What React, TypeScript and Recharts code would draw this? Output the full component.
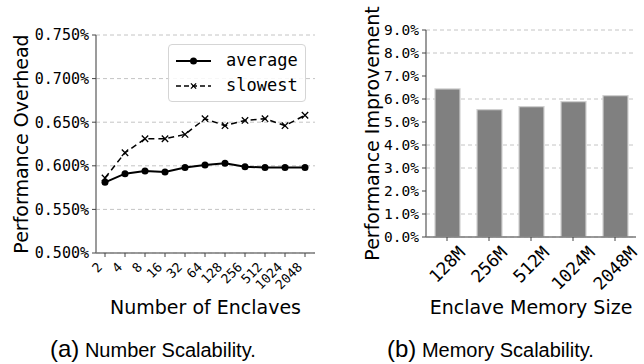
import React from "react";
import {
  LineChart,
  Line,
  BarChart,
  Bar,
  XAxis,
  YAxis,
  CartesianGrid,
} from "recharts";

const enclaves = ["2", "4", "8", "16", "32", "64", "128", "256", "512", "1024", "2048"];
const averageOverhead = [0.581, 0.591, 0.594, 0.593, 0.598, 0.601, 0.603, 0.599, 0.598, 0.598, 0.598];
const slowestOverhead = [0.586, 0.615, 0.631, 0.631, 0.636, 0.654, 0.646, 0.652, 0.654, 0.646, 0.658];
const overheadTicks = [0.5, 0.55, 0.6, 0.65, 0.7, 0.75];

const memorySizes = ["128M", "256M", "512M", "1024M", "2048M"];
const improvement = [6.44, 5.54, 5.67, 5.89, 6.15];
const improvementTicks = [0, 1, 2, 3, 4, 5, 6, 7, 8, 9];

const lineData = enclaves.map((n, i) => ({
  n,
  average: averageOverhead[i],
  slowest: slowestOverhead[i],
}));
const barData = memorySizes.map((m, i) => ({ m, value: improvement[i] }));

const MONO = "'DejaVu Sans Mono', monospace";
const SANS = "'DejaVu Sans', sans-serif";
const FRAME = "#7a7a7a";
const TICKLINE = "#444";

const LeftTick = (props: any) => {
  const { x, payload } = props;
  const ax = x - 2;
  const ay = 253 + 15;
  return (
    <text
      x={ax}
      y={ay}
      textAnchor="end"
      transform={`rotate(-45, ${ax}, ${ay})`}
      fontSize={13}
      fontFamily={MONO}
      fill="#000"
    >
      {payload.value}
    </text>
  );
};

const RightTick = (props: any) => {
  const { x, payload } = props;
  const fs = 17.5;
  const len = String(payload.value).length * 0.602 * fs;
  const h = 0.707 * (len + 0.73 * fs);
  const cy = 237 + 8 + h / 2;
  return (
    <text
      x={x}
      y={cy}
      dy="0.35em"
      textAnchor="middle"
      transform={`rotate(-45, ${x}, ${cy})`}
      fontSize={fs}
      fontFamily={MONO}
      fill="#000"
    >
      {payload.value}
    </text>
  );
};

const Cross = ({ cx, cy, s = 3.2 }: { cx: number; cy: number; s?: number }) => (
  <path
    d={`M${cx - s},${cy - s}L${cx + s},${cy + s}M${cx - s},${cy + s}L${cx + s},${cy - s}`}
    stroke="#000"
    strokeWidth={1.3}
    fill="none"
  />
);

function OverheadLegend() {
  return (
    <div
      style={{
        position: "absolute",
        left: 168,
        top: 44,
        width: 136,
        height: 56,
        border: "1px solid #d5d5d5",
        borderRadius: 4,
        background: "rgba(255,255,255,0.85)",
      }}
    >
      <svg width={136} height={56}>
        <line x1={7} y1={16} x2={42} y2={16} stroke="#000" strokeWidth={2} />
        <circle cx={24.5} cy={16} r={3.5} fill="#000" />
        <text x={57} y={16} dy="0.32em" fontSize={17} fontFamily={MONO} fill="#000">
          average
        </text>
        <line x1={7} y1={41} x2={42} y2={41} stroke="#000" strokeWidth={1.5} strokeDasharray="5 3" />
        <Cross cx={24.5} cy={41} s={2.6} />
        <text x={57} y={41} dy="0.32em" fontSize={17} fontFamily={MONO} fill="#000">
          slowest
        </text>
      </svg>
    </div>
  );
}

export default function App() {
  return (
    <div style={{ position: "absolute", left: 0, top: 0, width: 644, height: 364, background: "#fff" }}>
      <div style={{ position: "absolute", left: 0, top: 0, width: 322, height: 330 }}>
        <LineChart width={322} height={330} data={lineData} margin={{ top: 35, right: 7, bottom: 0, left: 0 }}>
          <CartesianGrid vertical={false} stroke="#c4c4c4" strokeDasharray="4 3" />
          <XAxis
            dataKey="n"
            interval={0}
            height={77}
            padding={{ left: 9, right: 10 }}
            tick={<LeftTick />}
            tickSize={4}
            tickLine={{ stroke: TICKLINE }}
            axisLine={{ stroke: FRAME, strokeWidth: 1.5 }}
            label={{
              value: "Number of Enclaves",
              position: "insideBottom",
              offset: 16,
              fontSize: 19,
              fill: "#000",
              style: { fontFamily: SANS },
            }}
          />
          <XAxis xAxisId="top" orientation="top" dataKey="n" height={0} tick={false} tickLine={false} axisLine={{ stroke: FRAME, strokeWidth: 1.5 }} />
          <YAxis
            type="number"
            domain={[0.5, 0.75]}
            ticks={overheadTicks}
            width={96}
            tickSize={4}
            tickMargin={3}
            tickLine={{ stroke: TICKLINE }}
            axisLine={{ stroke: FRAME, strokeWidth: 1.5 }}
            tickFormatter={(v: number) => v.toFixed(3) + "%"}
            tick={{ fontSize: 15, fontFamily: MONO, fill: "#000" }}
            label={{
              value: "Performance Overhead",
              angle: -90,
              position: "insideLeft",
              offset: 21,
              fontSize: 19,
              fill: "#000",
              style: { fontFamily: SANS, textAnchor: "middle" },
            }}
          />
          <YAxis yAxisId="right" orientation="right" width={0} tick={false} tickLine={false} axisLine={{ stroke: FRAME, strokeWidth: 1.5 }} />
          <Line
            dataKey="average"
            stroke="#000"
            strokeWidth={2}
            isAnimationActive={false}
            activeDot={false}
            dot={(p: any) => <circle key={`a${p.index}`} cx={p.cx} cy={p.cy} r={3.5} fill="#000" />}
          />
          <Line
            dataKey="slowest"
            stroke="#000"
            strokeWidth={1.5}
            strokeDasharray="6 4"
            isAnimationActive={false}
            activeDot={false}
            dot={(p: any) => <Cross key={`s${p.index}`} cx={p.cx} cy={p.cy} />}
          />
        </LineChart>
        <OverheadLegend />
      </div>

      <div style={{ position: "absolute", left: 322, top: 0, width: 322, height: 330 }}>
        <BarChart width={322} height={330} data={barData} margin={{ top: 30, right: 8, bottom: 0, left: 0 }}>
          <CartesianGrid vertical={false} stroke="#c4c4c4" strokeDasharray="4 3" />
          <XAxis
            dataKey="m"
            interval={0}
            height={93}
            tick={<RightTick />}
            tickSize={4}
            tickLine={{ stroke: TICKLINE }}
            axisLine={{ stroke: FRAME, strokeWidth: 1.5 }}
            label={{
              value: "Enclave Memory Size",
              position: "insideBottom",
              offset: 16,
              fontSize: 19,
              fill: "#000",
              style: { fontFamily: SANS },
            }}
          />
          <XAxis xAxisId="top" orientation="top" dataKey="m" height={0} tick={false} tickLine={false} axisLine={{ stroke: FRAME, strokeWidth: 1.5 }} />
          <YAxis
            type="number"
            domain={[0, 9]}
            ticks={improvementTicks}
            width={104}
            tickSize={4}
            tickMargin={3}
            tickLine={{ stroke: TICKLINE }}
            axisLine={{ stroke: FRAME, strokeWidth: 1.5 }}
            tickFormatter={(v: number) => v.toFixed(1) + "%"}
            tick={{ fontSize: 14.5, fontFamily: MONO, fill: "#000" }}
            label={{
              value: "Performance Improvement",
              angle: -90,
              position: "insideLeft",
              offset: 50,
              fontSize: 19,
              fill: "#000",
              style: { fontFamily: SANS, textAnchor: "middle" },
            }}
          />
          <YAxis yAxisId="right" orientation="right" width={0} tick={false} tickLine={false} axisLine={{ stroke: FRAME, strokeWidth: 1.5 }} />
          <Bar dataKey="value" fill="#808080" stroke="#d0d0d0" strokeWidth={1.2} barSize={25} isAnimationActive={false} />
        </BarChart>
      </div>

      <svg width={644} height={364} style={{ position: "absolute", left: 0, top: 0, pointerEvents: "none" }}>
        <text x={50} y={357} fontFamily="'Liberation Sans', Arial, sans-serif" fill="#000">
          <tspan fontSize={24}>(a)</tspan>
          <tspan fontSize={20}> Number Scalability.</tspan>
        </text>
        <text x={387} y={357} fontFamily="'Liberation Sans', Arial, sans-serif" fill="#000">
          <tspan fontSize={24}>(b)</tspan>
          <tspan fontSize={20}> Memory Scalability.</tspan>
        </text>
      </svg>
    </div>
  );
}
